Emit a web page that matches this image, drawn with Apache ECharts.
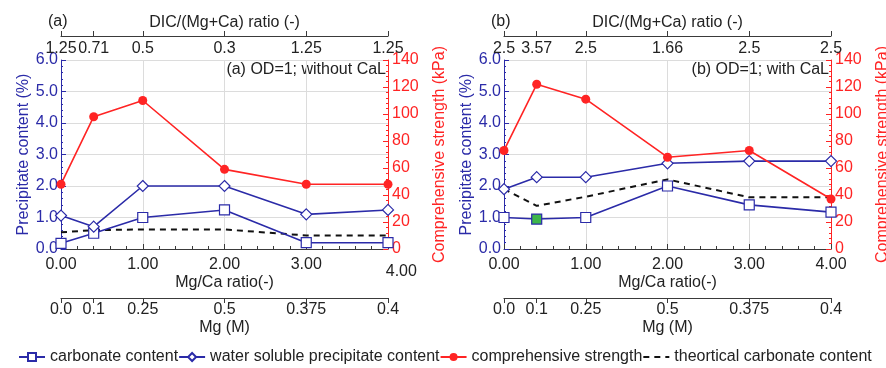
<!DOCTYPE html>
<html>
<head>
<meta charset="utf-8">
<script src="https://cdn.jsdelivr.net/npm/echarts@6/dist/echarts.min.js"></script>
<style>
  html, body { margin: 0; background: #fff; }
  #chart { width: 886px; height: 368px; }
</style>
</head>
<body>
<div id="chart"></div>
<script>
// x positions (Mg/Ca ratio) shared by both panels
const mgCa = [0, 0.4, 1, 2, 3, 4];
const mgMolar = ['0.0', '0.1', '0.25', '0.5', '0.375', '0.4'];
const dicA = ['1.25', '0.71', '0.5', '0.3', '1.25', '1.25'];
const dicB = ['2.5', '3.57', '2.5', '1.66', '2.5', '2.5'];

// (a) OD=1; without CaL
const carbonateA = [0.18, 0.5, 1.0, 1.24, 0.2, 0.2];
const solubleA = [1.06, 0.71, 2.0, 2.0, 1.1, 1.24];
const strengthA = [48, 98, 110, 59, 48, 48];
const theoryA = [0.53, 0.6, 0.62, 0.62, 0.43, 0.43];

// (b) OD=1; with CaL
const carbonateB = [1.0, 0.95, 1.0, 2.0, 1.4, 1.17];
const solubleB = [1.9, 2.28, 2.28, 2.72, 2.79, 2.79];
const strengthB = [73, 122, 111, 68, 73, 37];
const theoryB = [1.9, 1.37, 1.66, 2.21, 1.64, 1.64];

const FONT = '"Liberation Sans", Arial, sans-serif';
const BLUE = '#2b2ba8';
const RED = '#ff2424';
const INK = '#222';
const AXIS = '#3a3a3a';
const NB = '\u00a0';

const chart = echarts.init(document.getElementById('chart'));

const idxOf = v => mgCa.findIndex(x => Math.abs(x - v) < 1e-6);
const pairs = ys => mgCa.map((x, i) => [x, ys[i]]);

// panel p: grid p = plot, grid 2+p = DIC strip on top, grid 4+p = Mg strip below
const panelLeft = [61, 504];
const grids = [];
[60, 36, 297].forEach((top, k) => {
  panelLeft.forEach(left => {
    grids.push({ left, width: 327, top, height: k === 0 ? 189 : 1, outerBoundsMode: 'none' });
  });
});

function xAxes(p, dic) {
  return [
    {
      gridIndex: p, type: 'value', min: 0, max: 4, interval: 1, position: 'bottom',
      axisLine: { show: true, onZero: false, lineStyle: { color: AXIS } },
      axisTick: { inside: true, length: 5, lineStyle: { color: AXIS } },
      minorTick: { show: true, splitNumber: 5, length: 3, lineStyle: { color: AXIS } },
      splitLine: { show: true, lineStyle: { color: '#dcdcdc' } },
      axisLabel: {
        color: INK, fontSize: 16, fontFamily: FONT, margin: 8,
        // the last label of panel (a) sits lower and to the right in the original
        formatter: v => (p === 0 && v === 4) ? '{lo|' + NB.repeat(6) + '4.00}' : v.toFixed(2),
        rich: { lo: { lineHeight: 30, fontSize: 16, fontFamily: FONT, color: INK } }
      },
      name: 'Mg/Ca ratio(-)', nameLocation: 'middle', nameGap: 26, nameMoveOverlap: false,
      nameTextStyle: { color: INK, fontSize: 16, fontFamily: FONT }
    },
    {
      gridIndex: 2 + p, type: 'value', min: 0, max: 4, position: 'top',
      axisLine: { show: true, onZero: false, lineStyle: { color: AXIS, width: 1.2 } },
      axisTick: { show: true, customValues: mgCa, length: 5, lineStyle: { color: AXIS } },
      splitLine: { show: false },
      axisLabel: {
        inside: true, customValues: mgCa, margin: 5,
        color: INK, fontSize: 16, fontFamily: FONT,
        formatter: v => dic[idxOf(v)]
      },
      name: 'DIC/(Mg+Ca) ratio (-)', nameLocation: 'middle', nameGap: 5,
      nameTextStyle: { color: INK, fontSize: 16, fontFamily: FONT }
    },
    {
      gridIndex: 4 + p, type: 'value', min: 0, max: 4, position: 'bottom',
      axisLine: { show: true, onZero: false, lineStyle: { color: AXIS, width: 1.2 } },
      axisTick: { show: true, customValues: mgCa, length: 5, lineStyle: { color: AXIS } },
      splitLine: { show: false },
      axisLabel: {
        customValues: mgCa, margin: 4,
        color: INK, fontSize: 16, fontFamily: FONT,
        formatter: v => mgMolar[idxOf(v)]
      },
      name: 'Mg (M)', nameLocation: 'middle', nameGap: 22,
      nameTextStyle: { color: INK, fontSize: 16, fontFamily: FONT }
    }
  ];
}

function yAxes(p) {
  return [
    {
      gridIndex: p, type: 'value', min: 0, max: 6, interval: 1, position: 'left',
      axisLine: { show: true, onZero: false, lineStyle: { color: BLUE } },
      axisTick: { show: true, inside: true, length: 5, lineStyle: { color: BLUE } },
      minorTick: { show: true, splitNumber: 5, length: 2, lineStyle: { color: BLUE } },
      splitLine: { show: true, lineStyle: { color: '#dcdcdc' } },
      axisLabel: { color: BLUE, fontSize: 16, fontFamily: FONT, margin: 3, formatter: v => v.toFixed(1) },
      name: 'Precipitate content (%)', nameLocation: 'middle', nameGap: 26,
      nameTextStyle: { color: BLUE, fontSize: 16, fontFamily: FONT }
    },
    {
      gridIndex: p, type: 'value', min: 0, max: 140, interval: 20, position: 'right',
      axisLine: { show: true, onZero: false, lineStyle: { color: RED } },
      axisTick: { show: true, inside: true, length: 5, lineStyle: { color: RED } },
      minorTick: { show: true, splitNumber: 5, length: 2, lineStyle: { color: RED } },
      splitLine: { show: false },
      axisLabel: { color: RED, fontSize: 16, fontFamily: FONT, margin: 4 },
      name: 'Comprehensive strength (kPa)', nameLocation: 'middle', nameGap: 44,
      nameTextStyle: { color: RED, fontSize: 16, fontFamily: FONT }
    }
  ];
}

// hidden y axes for the thin strips that carry the secondary x axes
const stripY = [2, 3, 4, 5].map(g => ({ gridIndex: g, type: 'value', min: 0, max: 1, show: false }));

function panelSeries(p, carb, sol, str, theo) {
  const xi = p * 3, yi = p * 2;
  const carbData = pairs(carb).map((d, i) =>
    (p === 1 && i === 1) ? { value: d, itemStyle: { color: '#3db54a' } } : d);
  return [
    {
      name: 'carbonate content', type: 'line', xAxisIndex: xi, yAxisIndex: yi,
      data: carbData, symbol: 'rect', symbolSize: 10, z: 3,
      itemStyle: { color: '#fff', borderColor: BLUE, borderWidth: 1.2 },
      lineStyle: { color: BLUE, width: 1.6 }
    },
    {
      name: 'water soluble precipitate content', type: 'line', xAxisIndex: xi, yAxisIndex: yi,
      data: pairs(sol), symbol: 'diamond', symbolSize: 11, z: 3,
      itemStyle: { color: '#fff', borderColor: BLUE, borderWidth: 1.2 },
      lineStyle: { color: BLUE, width: 1.6 }
    },
    {
      name: 'comprehensive strength', type: 'line', xAxisIndex: xi, yAxisIndex: yi + 1,
      data: pairs(str), symbol: 'circle', symbolSize: 9, z: 4,
      itemStyle: { color: RED },
      lineStyle: { color: RED, width: 1.6 }
    },
    {
      name: 'theortical carbonate content', type: 'line', xAxisIndex: xi, yAxisIndex: yi,
      data: pairs(theo), symbol: 'none', z: 2,
      itemStyle: { color: '#111' },
      lineStyle: { color: '#111', width: 2, type: [6, 5] }
    }
  ];
}

const option = {
  backgroundColor: '#fff',
  animation: false,
  textStyle: { fontFamily: FONT },
  grid: grids,
  xAxis: [...xAxes(0, dicA), ...xAxes(1, dicB)],
  yAxis: [...yAxes(0), ...yAxes(1), ...stripY],
  legend: {
    left: 18, top: 349, width: 880, padding: 0,
    itemWidth: 26, itemHeight: 10, itemGap: 0,
    textStyle: { color: INK, fontSize: 16, fontFamily: FONT },
    data: ['carbonate content', 'water soluble precipitate content',
           'comprehensive strength',
           { name: 'theortical carbonate content', itemStyle: { opacity: 0 } }]
  },
  graphic: [
    { type: 'text', x: 48, y: 22, style: { text: '(a)', fill: INK, fontSize: 16, fontFamily: FONT, verticalAlign: 'middle' } },
    { type: 'text', x: 491, y: 22, style: { text: '(b)', fill: INK, fontSize: 16, fontFamily: FONT, verticalAlign: 'middle' } },
    { type: 'text', x: 386, y: 70, style: { text: '(a) OD=1; without CaL', fill: INK, fontSize: 16, fontFamily: FONT, align: 'right', verticalAlign: 'middle' } },
    { type: 'text', x: 829, y: 70, style: { text: '(b) OD=1; with CaL', fill: INK, fontSize: 16, fontFamily: FONT, align: 'right', verticalAlign: 'middle' } }
  ],
  series: [
    ...panelSeries(0, carbonateA, solubleA, strengthA, theoryA),
    ...panelSeries(1, carbonateB, solubleB, strengthB, theoryB)
  ]
};

chart.setOption(option);
</script>
</body>
</html>
